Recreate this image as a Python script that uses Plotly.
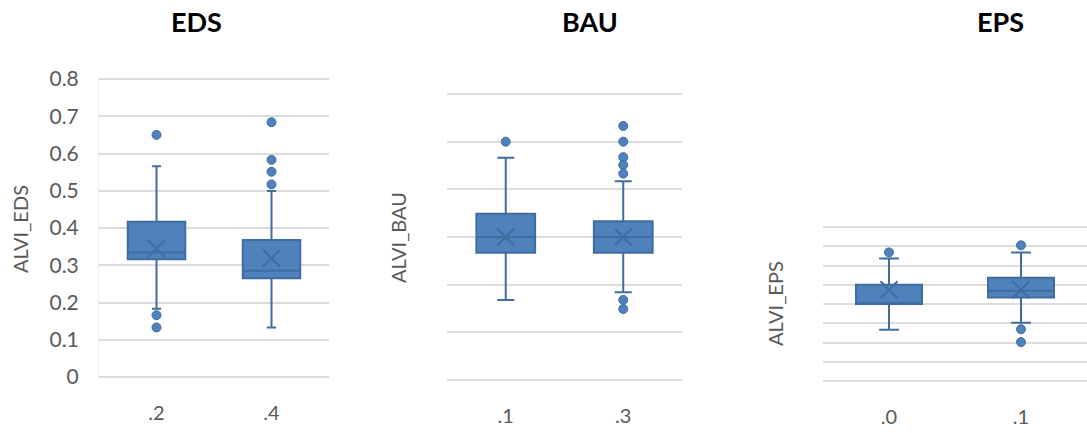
import plotly.graph_objects as go

# Scenario panels and their box categories
panels = ["EDS", "BAU", "EPS"]
categories = {"EDS": [".2", ".4"], "BAU": [".1", ".3"], "EPS": [".0", ".1"]}

# Five-number summaries per category (ALVI)
q1 = {"EDS": [0.316, 0.265], "BAU": [0.267, 0.267], "EPS": [0.400, 0.434]}
median = {"EDS": [0.334, 0.285], "BAU": [0.300, 0.300], "EPS": [0.400, 0.469]}
q3 = {"EDS": [0.417, 0.368], "BAU": [0.349, 0.333], "EPS": [0.500, 0.536]}
lower = {"EDS": [0.183, 0.133], "BAU": [0.168, 0.184], "EPS": [0.266, 0.302]}
upper = {"EDS": [0.566, 0.499], "BAU": [0.466, 0.417], "EPS": [0.637, 0.667]}
mean = {"EDS": [0.345, 0.319], "BAU": [0.300, 0.300], "EPS": [0.474, 0.474]}

# Outlying observations per category
outliers = {
    "EDS": [[0.650, 0.166, 0.133], [0.684, 0.583, 0.551, 0.517]],
    "BAU": [[0.500], [0.533, 0.500, 0.4675, 0.451, 0.433, 0.168, 0.149]],
    "EPS": [[0.668], [0.705, 0.269, 0.202]],
}

y_ranges = {"EDS": [0, 0.8], "BAU": [0, 0.6], "EPS": [0, 0.8]}
show_y_labels = {"EDS": True, "BAU": False, "EPS": False}
cap_width = {"EDS": 0.16, "BAU": 0.29, "EPS": 0.3}

W, H = 1087, 433
# plot areas in pixels: (left, right, top, bottom)
areas = {"EDS": (99, 329, 79, 377), "BAU": (447, 682, 94, 380), "EPS": (823, 1087, 227, 381)}
title_x = {"EDS": 196, "BAU": 590, "EPS": 1000}
ytitle_pos = {"EDS": (20, 229), "BAU": (398, 238), "EPS": (775, 304)}

FILL = "#4f81bd"
EDGE = "#3f6d9f"
GRID = "#dcdcdc"
TXT = "#595959"
FONT = "Lato"

fig = go.Figure()
layout = dict(
    width=W, height=H, margin=dict(l=0, r=0, t=0, b=0),
    paper_bgcolor="white", plot_bgcolor="white", showlegend=False,
    annotations=[],
)

for i, p in enumerate(panels):
    n = "" if i == 0 else str(i + 1)
    xa, ya = "x" + n, "y" + n
    xs = [0, 1]
    fig.add_trace(go.Box(
        x=xs, q1=q1[p], median=median[p], q3=q3[p],
        lowerfence=lower[p], upperfence=upper[p],
        width=0.5, whiskerwidth=cap_width[p],
        fillcolor=FILL, line=dict(color=EDGE, width=2),
        boxpoints=False, xaxis=xa, yaxis=ya,
    ))
    ox, oy = [], []
    for k, vals in enumerate(outliers[p]):
        ox += [xs[k]] * len(vals)
        oy += vals
    fig.add_trace(go.Scatter(
        x=ox, y=oy, mode="markers", xaxis=xa, yaxis=ya,
        marker=dict(size=9, color=FILL, line=dict(color=EDGE, width=1)),
    ))
    fig.add_trace(go.Scatter(
        x=xs, y=mean[p], mode="markers", xaxis=xa, yaxis=ya,
        marker=dict(symbol="x-thin", size=17, line=dict(color=EDGE, width=2)),
    ))

    l, r, t, b = areas[p]
    lo, hi = y_ranges[p]
    # a couple of pixels of headroom so the end gridlines are drawn
    pad = 2 * (hi - lo) / (b - t)
    layout["xaxis" + n] = dict(
        domain=[l / W, r / W], range=[-0.5, 1.5], anchor=ya, automargin=False,
        tickvals=xs, ticktext=categories[p], showgrid=False, zeroline=False,
        showline=False, ticks="", ticklabelstandoff=20,
        tickfont=dict(family=FONT, size=20, color=TXT),
    )
    layout["yaxis" + n] = dict(
        domain=[1 - (b + 2) / H, 1 - (t - 2) / H], range=[lo - pad, hi + pad],
        anchor=xa, automargin=False, tick0=0, dtick=0.1, showgrid=True,
        gridcolor=GRID, gridwidth=2, zeroline=False,
        showticklabels=show_y_labels[p], ticks="",
        tickformat=".1~f", ticklabelstandoff=15,
        showline=(p == "EDS"), linecolor="#ececec", linewidth=1,
        tickfont=dict(family=FONT, size=21, color=TXT),
    )
    layout["annotations"].append(dict(
        text="<b>" + p + "</b>", x=title_x[p] / W, y=1 - 22 / H,
        xref="paper", yref="paper", showarrow=False,
        xanchor="center", yanchor="middle",
        font=dict(family=FONT, size=27, color="black"),
    ))
    tx, ty = ytitle_pos[p]
    layout["annotations"].append(dict(
        text="ALVI_" + p, x=tx / W, y=1 - ty / H, textangle=-90,
        xref="paper", yref="paper", showarrow=False,
        xanchor="center", yanchor="middle",
        font=dict(family=FONT, size=20, color=TXT),
    ))

fig.update_layout(**layout)
fig.write_html("out.html")
